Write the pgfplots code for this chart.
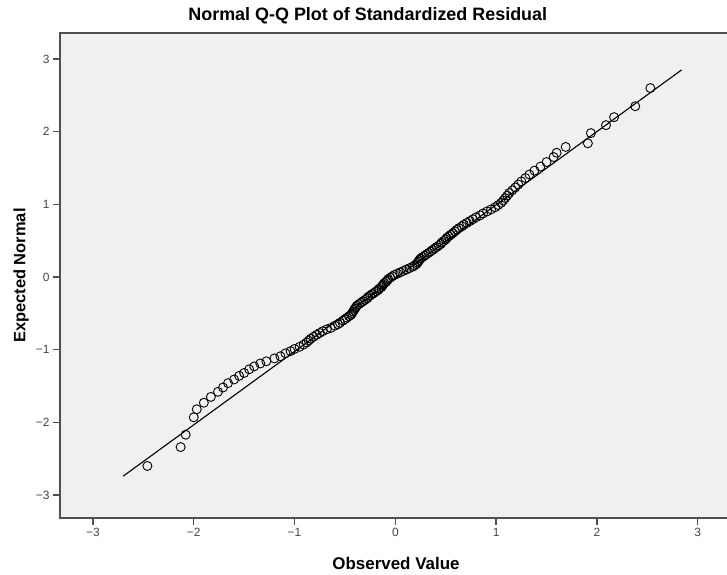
\documentclass[border=0pt]{standalone}
\usepackage{fontspec}
\setmainfont{Liberation Sans}
\usepackage{pgfplots}
\pgfplotsset{compat=1.18}

\definecolor{panel}{RGB}{240,240,240}
\definecolor{frame}{RGB}{80,80,80}
\definecolor{ticktxt}{RGB}{70,70,70}

% observed value (x), expected normal (y)
\pgfplotstableread{
x y
-2.46 -2.60
-2.13 -2.34
-2.08 -2.17
-2.00 -1.93
-1.97 -1.82
-1.90 -1.73
-1.83 -1.65
-1.76 -1.58
-1.71 -1.52
-1.66 -1.46
-1.60 -1.41
-1.55 -1.36
-1.50 -1.32
-1.45 -1.27
-1.40 -1.23
-1.34 -1.19
-1.28 -1.16
-1.20 -1.12
-1.14 -1.09
-1.09 -1.05
-1.04 -1.02
-1.00 -0.99
-0.95 -0.96
-0.91 -0.93
-0.88 -0.90
-0.86 -0.875
-0.84 -0.85
-0.81 -0.82
-0.78 -0.795
-0.75 -0.77
-0.72 -0.745
-0.68 -0.72
-0.64 -0.70
-0.60 -0.67
-0.57 -0.65
-0.55 -0.63
-0.52 -0.60
-0.50 -0.58
-0.48 -0.56
-0.46 -0.54
-0.44 -0.52
-0.43 -0.50
-0.42 -0.475
-0.41 -0.454
-0.40 -0.433
-0.39 -0.413
-0.38 -0.393
-0.36 -0.372
-0.34 -0.352
-0.32 -0.333
-0.30 -0.313
-0.28 -0.294
-0.27 -0.274
-0.25 -0.255
-0.23 -0.236
-0.21 -0.217
-0.19 -0.197
-0.17 -0.178
-0.16 -0.159
-0.14 -0.141
-0.13 -0.122
-0.12 -0.103
-0.11 -0.084
-0.09 -0.065
-0.08 -0.047
-0.07 -0.028
-0.05 -0.009
-0.03 0.009
-0.01 0.028
0.02 0.047
0.05 0.065
0.08 0.084
0.11 0.103
0.14 0.122
0.17 0.141
0.19 0.159
0.21 0.178
0.22 0.197
0.23 0.217
0.24 0.236
0.25 0.255
0.27 0.274
0.29 0.294
0.31 0.313
0.33 0.333
0.35 0.352
0.37 0.372
0.39 0.393
0.41 0.413
0.43 0.433
0.45 0.454
0.46 0.475
0.48 0.496
0.50 0.517
0.51 0.538
0.53 0.560
0.55 0.582
0.57 0.604
0.59 0.627
0.61 0.650
0.63 0.673
0.66 0.697
0.68 0.720
0.71 0.745
0.74 0.770
0.77 0.795
0.80 0.821
0.84 0.848
0.87 0.875
0.91 0.903
0.95 0.931
0.99 0.960
1.02 0.990
1.05 1.021
1.07 1.053
1.09 1.086
1.11 1.120
1.13 1.156
1.16 1.193
1.19 1.232
1.22 1.273
1.25 1.316
1.29 1.362
1.33 1.411
1.38 1.464
1.44 1.520
1.50 1.582
1.57 1.651
1.60 1.71
1.69 1.79
1.91 1.84
1.94 1.98
2.09 2.09
2.17 2.20
2.38 2.35
2.53 2.60
}\qqdata

\begin{document}
\begin{tikzpicture}
\begin{axis}[
  scale only axis,
  width=672bp, height=485bp,
  xmin=-3.327, xmax=3.34,
  ymin=-3.316, ymax=3.358,
  axis background/.style={fill=panel},
  axis line style={draw=frame, line width=2.2bp},
  tick align=outside,
  xtick pos=bottom, ytick pos=left,
  major tick length=7bp,
  tick style={draw=frame, line width=1.3bp},
  xtick={-3,-2,-1,0,1,2,3},
  ytick={-3,-2,-1,0,1,2,3},
  xticklabels={−3,−2,−1,0,1,2,3},
  yticklabels={−3,−2,−1,0,1,2,3},
  ticklabel style={font=\fontsize{12}{14}\selectfont, text=ticktxt},
  title={Normal Q-Q Plot of Standardized Residual},
  title style={font=\fontsize{18}{21}\selectfont\bfseries, anchor=base,
    at={(axis description cs:0.458,1.0144)}},
  xlabel={Observed Value},
  xlabel style={font=\fontsize{17}{20}\selectfont\bfseries, anchor=center,
    at={(axis description cs:0.5,-0.093)}},
  ylabel={Expected Normal},
  ylabel style={font=\fontsize{16.5}{20}\selectfont\bfseries, anchor=center,
    at={(axis description cs:-0.058,0.5)}},
  clip=false,
]
\addplot[only marks, mark=o, mark size=4.5bp,
  mark options={draw=black, line width=0.9bp}] table[x=x, y=y] {\qqdata};
\addplot[black, line width=1.1bp] coordinates {(-2.70,-2.74) (2.84,2.85)};
\end{axis}
\pgfresetboundingbox
\useasboundingbox (-60bp,-57bp) rectangle (667bp,518bp);
\end{tikzpicture}
\end{document}
